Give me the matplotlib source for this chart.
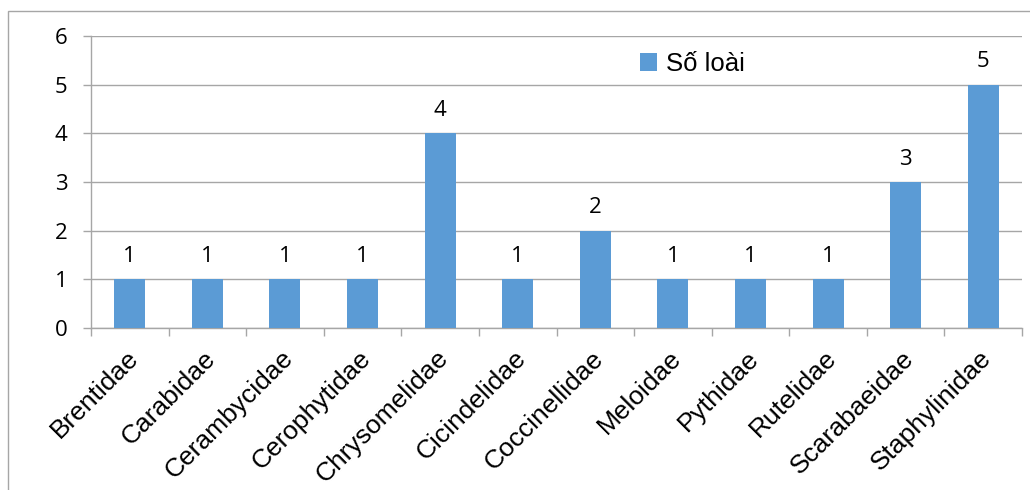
import matplotlib
matplotlib.use("Agg")
import matplotlib.pyplot as plt
from matplotlib.patches import Rectangle
from matplotlib.transforms import ScaledTranslation
import numpy as np

families = ["Brentidae", "Carabidae", "Cerambycidae", "Cerophytidae", "Chrysomelidae",
            "Cicindelidae", "Coccinellidae", "Meloidae", "Pythidae", "Rutelidae",
            "Scarabaeidae", "Staphylinidae"]
species_count = [1, 1, 1, 1, 4, 1, 2, 1, 1, 1, 3, 5]
series_name = "Số loài"
y_ticks = [0, 1, 2, 3, 4, 5, 6]

BAR_COLOR = "#5B9BD5"
GRID_COLOR = "#A6A6A6"
W, H = 1030, 490
SANS = ["Liberation Sans", "DejaVu Sans"]
NUM = ["Open Sans", "DejaVu Sans"]

fig = plt.figure(figsize=(W / 100, H / 100), dpi=100)
ax = fig.add_axes([91 / W, 1 - 328 / H, (1022 - 91) / W, (328 - 36) / H])

x = np.arange(len(families))
bars = ax.bar(x, species_count, width=0.4, color=BAR_COLOR, label=series_name, zorder=3)

# value labels above bars
for xi, v in zip(x, species_count):
    ax.annotate(str(v), (xi, v), xytext=(0, 9), textcoords="offset points",
                ha="center", va="bottom", fontsize=16, family=NUM, color="#000000")

ax.set_xlim(-0.5, len(families) - 0.5)
ax.set_ylim(0, 6)
ax.set_yticks(y_ticks)
ax.set_yticklabels([str(t) for t in y_ticks], family=NUM, fontsize=16)
ax.tick_params(axis="y", length=6, width=1, color=GRID_COLOR, pad=11)
ax.yaxis.grid(True, color=GRID_COLOR, lw=1, zorder=0)
ax.set_axisbelow(True)

# category labels at centers, tick marks on boundaries
ax.set_xticks(x)
ax.set_xticklabels(families, rotation=45, ha="right", rotation_mode="anchor",
                   family=SANS, fontsize=19)
ax.tick_params(axis="x", which="major", length=0, pad=13)
shift = ScaledTranslation(-4 / 100, 0, fig.dpi_scale_trans)
for lbl in ax.get_xticklabels():
    lbl.set_transform(lbl.get_transform() + shift)
ax.set_xticks(np.arange(-0.5, len(families)), minor=True)
ax.tick_params(axis="x", which="minor", length=6, width=1, color=GRID_COLOR)

for s in ["top", "right"]:
    ax.spines[s].set_visible(False)
for s in ["left", "bottom"]:
    ax.spines[s].set_color(GRID_COLOR)
    ax.spines[s].set_linewidth(1)

leg = fig.legend(handles=[bars], labels=[series_name], loc="center left",
                 bbox_to_anchor=(617 / W, 1 - 64 / H), frameon=False,
                 handlelength=0.65, handleheight=0.65, handletextpad=0.35,
                 prop={"family": SANS, "size": 18.5})

# outer chart frame
fig.patches.append(Rectangle((8 / W, -0.1), 1.2, 1.1 - 11 / H, transform=fig.transFigure,
                             fill=False, edgecolor=GRID_COLOR, lw=1))

fig.savefig("out.png", dpi=100)
